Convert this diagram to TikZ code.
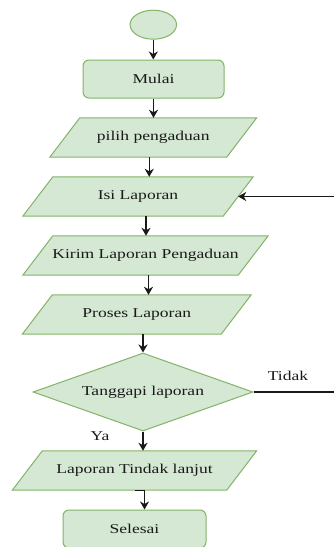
\documentclass[tikz,border=0pt]{standalone}
\usepackage{fontspec}
\setmainfont{Liberation Serif}[FakeStretch=1.3]
\usetikzlibrary{shapes.geometric,arrows.meta,backgrounds,calc}
\definecolor{gfill}{HTML}{D5E8D4}
\definecolor{gline}{HTML}{82B366}
\tikzset{
  box/.style={fill=gfill,draw=gline,line width=1pt},
  rbox/.style={box,rectangle,rounded corners=6pt,inner sep=0pt},
  pgtext/.style={rectangle,inner sep=0pt,minimum height=39pt},
  term/.style={box,ellipse,inner sep=0pt},
  dec/.style={box,diamond,inner sep=0pt,minimum width=220pt,minimum height=78pt,aspect=2.82},
  arr/.style={draw=black!90,line width=1.3pt,-{Stealth[length=8pt,width=9pt,inset=2.5pt]}},
  lbl/.style={inner sep=0pt,text=black!90},
  every node/.style={font=\fontsize{13.5}{16}\selectfont,text=black!90}
}
\newcommand\pgram[5]{%
  \node[pgtext,minimum width=#4pt] (#1) at (#2,#3) {#5};
  \begin{scope}[on background layer]
    \draw[box] ([xshift=-15pt]#1.south west) -- ([xshift=-15pt]#1.south east)
      -- ([xshift=15pt]#1.north east) -- ([xshift=15pt]#1.north west) -- cycle;
  \end{scope}}
\begin{document}
\begin{tikzpicture}[x=1pt,y=-1pt]
\useasboundingbox (0,0) rectangle (334,547);
\node[term,minimum width=46.5pt,minimum height=29pt] (st) at (153.3,24.7) {};
\node[rbox,minimum width=141pt,minimum height=38pt] (mul) at (153.5,79) {Mulai};
\pgram{pil}{153.25}{137.5}{176.5}{pilih pengaduan}
\pgram{isi}{138}{196.5}{200}{Isi Laporan}
\pgram{kir}{145.5}{255.5}{215}{Kirim Laporan Pengaduan}
\pgram{pro}{136.75}{314.5}{198.5}{Proses Laporan}
\node[dec] (dia) at (143,392) {Tanggapi laporan};
\pgram{lap}{134.5}{470.5}{214}{Laporan Tindak lanjut}
\node[rbox,minimum width=143pt,minimum height=38pt] (sel) at (134.5,529) {Selesai};
\node[lbl] (tidak) at (288,376) {Tidak};
\node[lbl] (ya) at (100,436) {Ya};
\draw[arr] (st.south) -- (st.south |- mul.north);
\draw[arr] (mul.south) -- (mul.south |- pil.north);
\draw[arr] ([xshift=-4pt]pil.south) -- ([xshift=-4pt]pil.south |- isi.north);
\draw[arr] ([xshift=8pt]isi.south) -- ([xshift=8pt]isi.south |- kir.north);
\draw[arr] ([xshift=3pt]kir.south) -- ([xshift=3pt]kir.south |- pro.north);
\draw[arr] (pro.south -| dia.north) -- (dia.north);
\draw[arr] (dia.south) -- (dia.south |- lap.north);
\draw[arr] (lap.south) -- ([xshift=10pt]lap.south) -- ([xshift=10pt]lap.south |- sel.north);
\coordinate (rt) at (340,392);
\draw[arr] (dia.east) -- (rt) |- (isi.east);
\end{tikzpicture}
\end{document}
